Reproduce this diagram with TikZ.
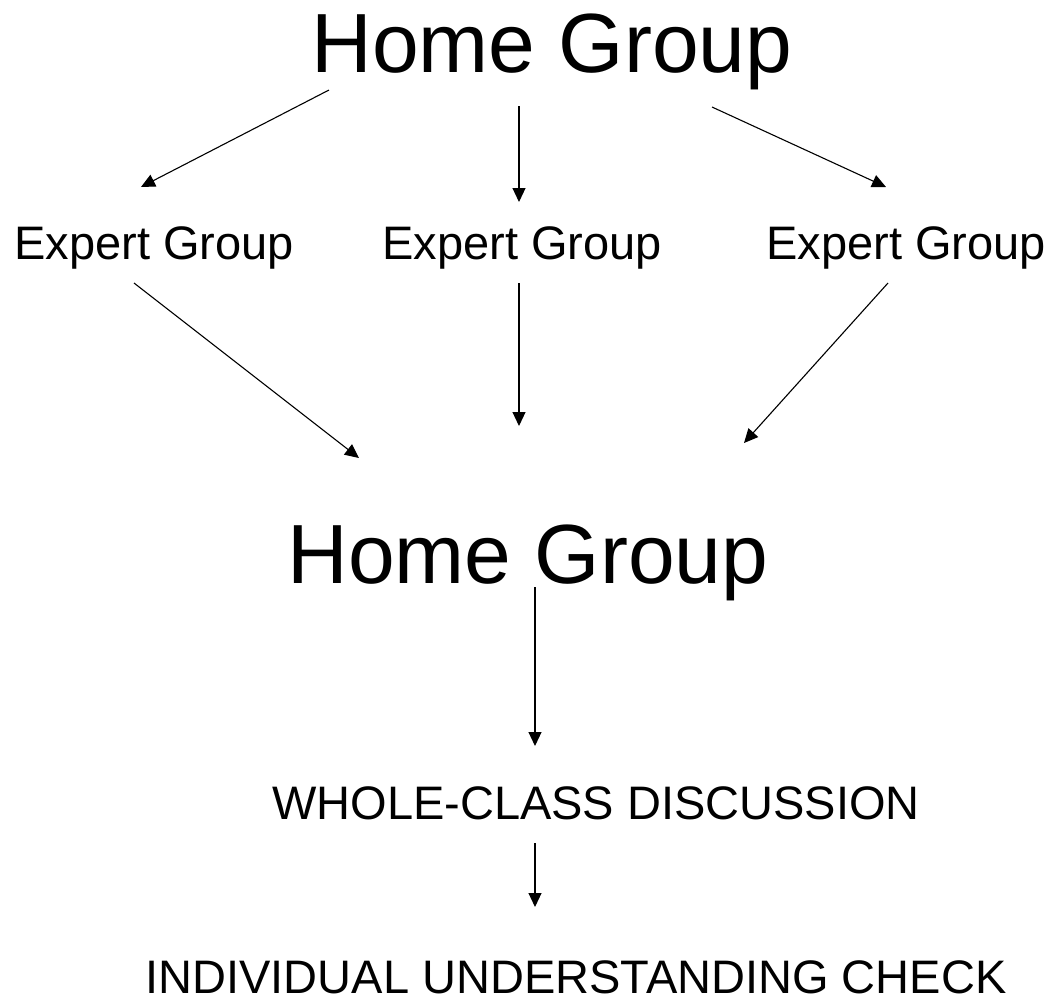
\documentclass[tikz,border=0pt]{standalone}
\usepackage{fontspec}
\setmainfont{Liberation Sans}
\usetikzlibrary{arrows.meta}

\begin{document}
\begin{tikzpicture}[x=1pt, y=-1pt, >={Triangle[length=14pt,width=13pt]},
    every node/.style={inner sep=0pt, anchor=base},
    bigtext/.style={font=\fontsize{84}{90}\selectfont},
    smalltext/.style={font=\fontsize{47}{52}\selectfont},
    link/.style={black, line width=1.1pt, ->}]
    \useasboundingbox (0,0) rectangle (1053,997);

    % groups
    \node[bigtext] (home1) at (552, 72) {Home Group};
    \node[smalltext] (expert1) at (154, 259) {Expert Group};
    \node[smalltext] (expert2) at (522, 259) {Expert Group};
    \node[smalltext] (expert3) at (906, 259) {Expert Group};
    \node[bigtext] (home2) at (528, 583) {Home Group};
    \node[smalltext] (whole) at (596, 819) {WHOLE-CLASS DISCUSSION};
    \node[smalltext, text depth=0pt] (check) at (576, 993) {INDIVIDUAL UNDERSTANDING CHECK};

    % arrow ends
    \coordinate (home1a) at (329, 90);  \coordinate (expert1in) at (141, 187);
    \coordinate (home1b) at (519, 106); \coordinate (expert2in) at (519, 202);
    \coordinate (home1c) at (712, 107); \coordinate (expert3in) at (886, 187);
    \coordinate (expert1out) at (134, 283); \coordinate (home2a) at (359, 458);
    \coordinate (expert2out) at (519, 283); \coordinate (home2b) at (519, 426);
    \coordinate (expert3out) at (888, 283); \coordinate (home2c) at (744, 443);
    \coordinate (home2out) at (535, 587); \coordinate (wholein) at (535, 746);
    \coordinate (wholeout) at (535, 843); \coordinate (checkin) at (535, 907);

    \draw[link] (home1a) -- (expert1in);
    \draw[link] (home1b) -- (expert2in);
    \draw[link] (home1c) -- (expert3in);

    \draw[link] (expert1out) -- (home2a);
    \draw[link] (expert2out) -- (home2b);
    \draw[link] (expert3out) -- (home2c);

    \draw[link] (home2out) -- (wholein);
    \draw[link] (wholeout) -- (checkin);
\end{tikzpicture}
\end{document}
